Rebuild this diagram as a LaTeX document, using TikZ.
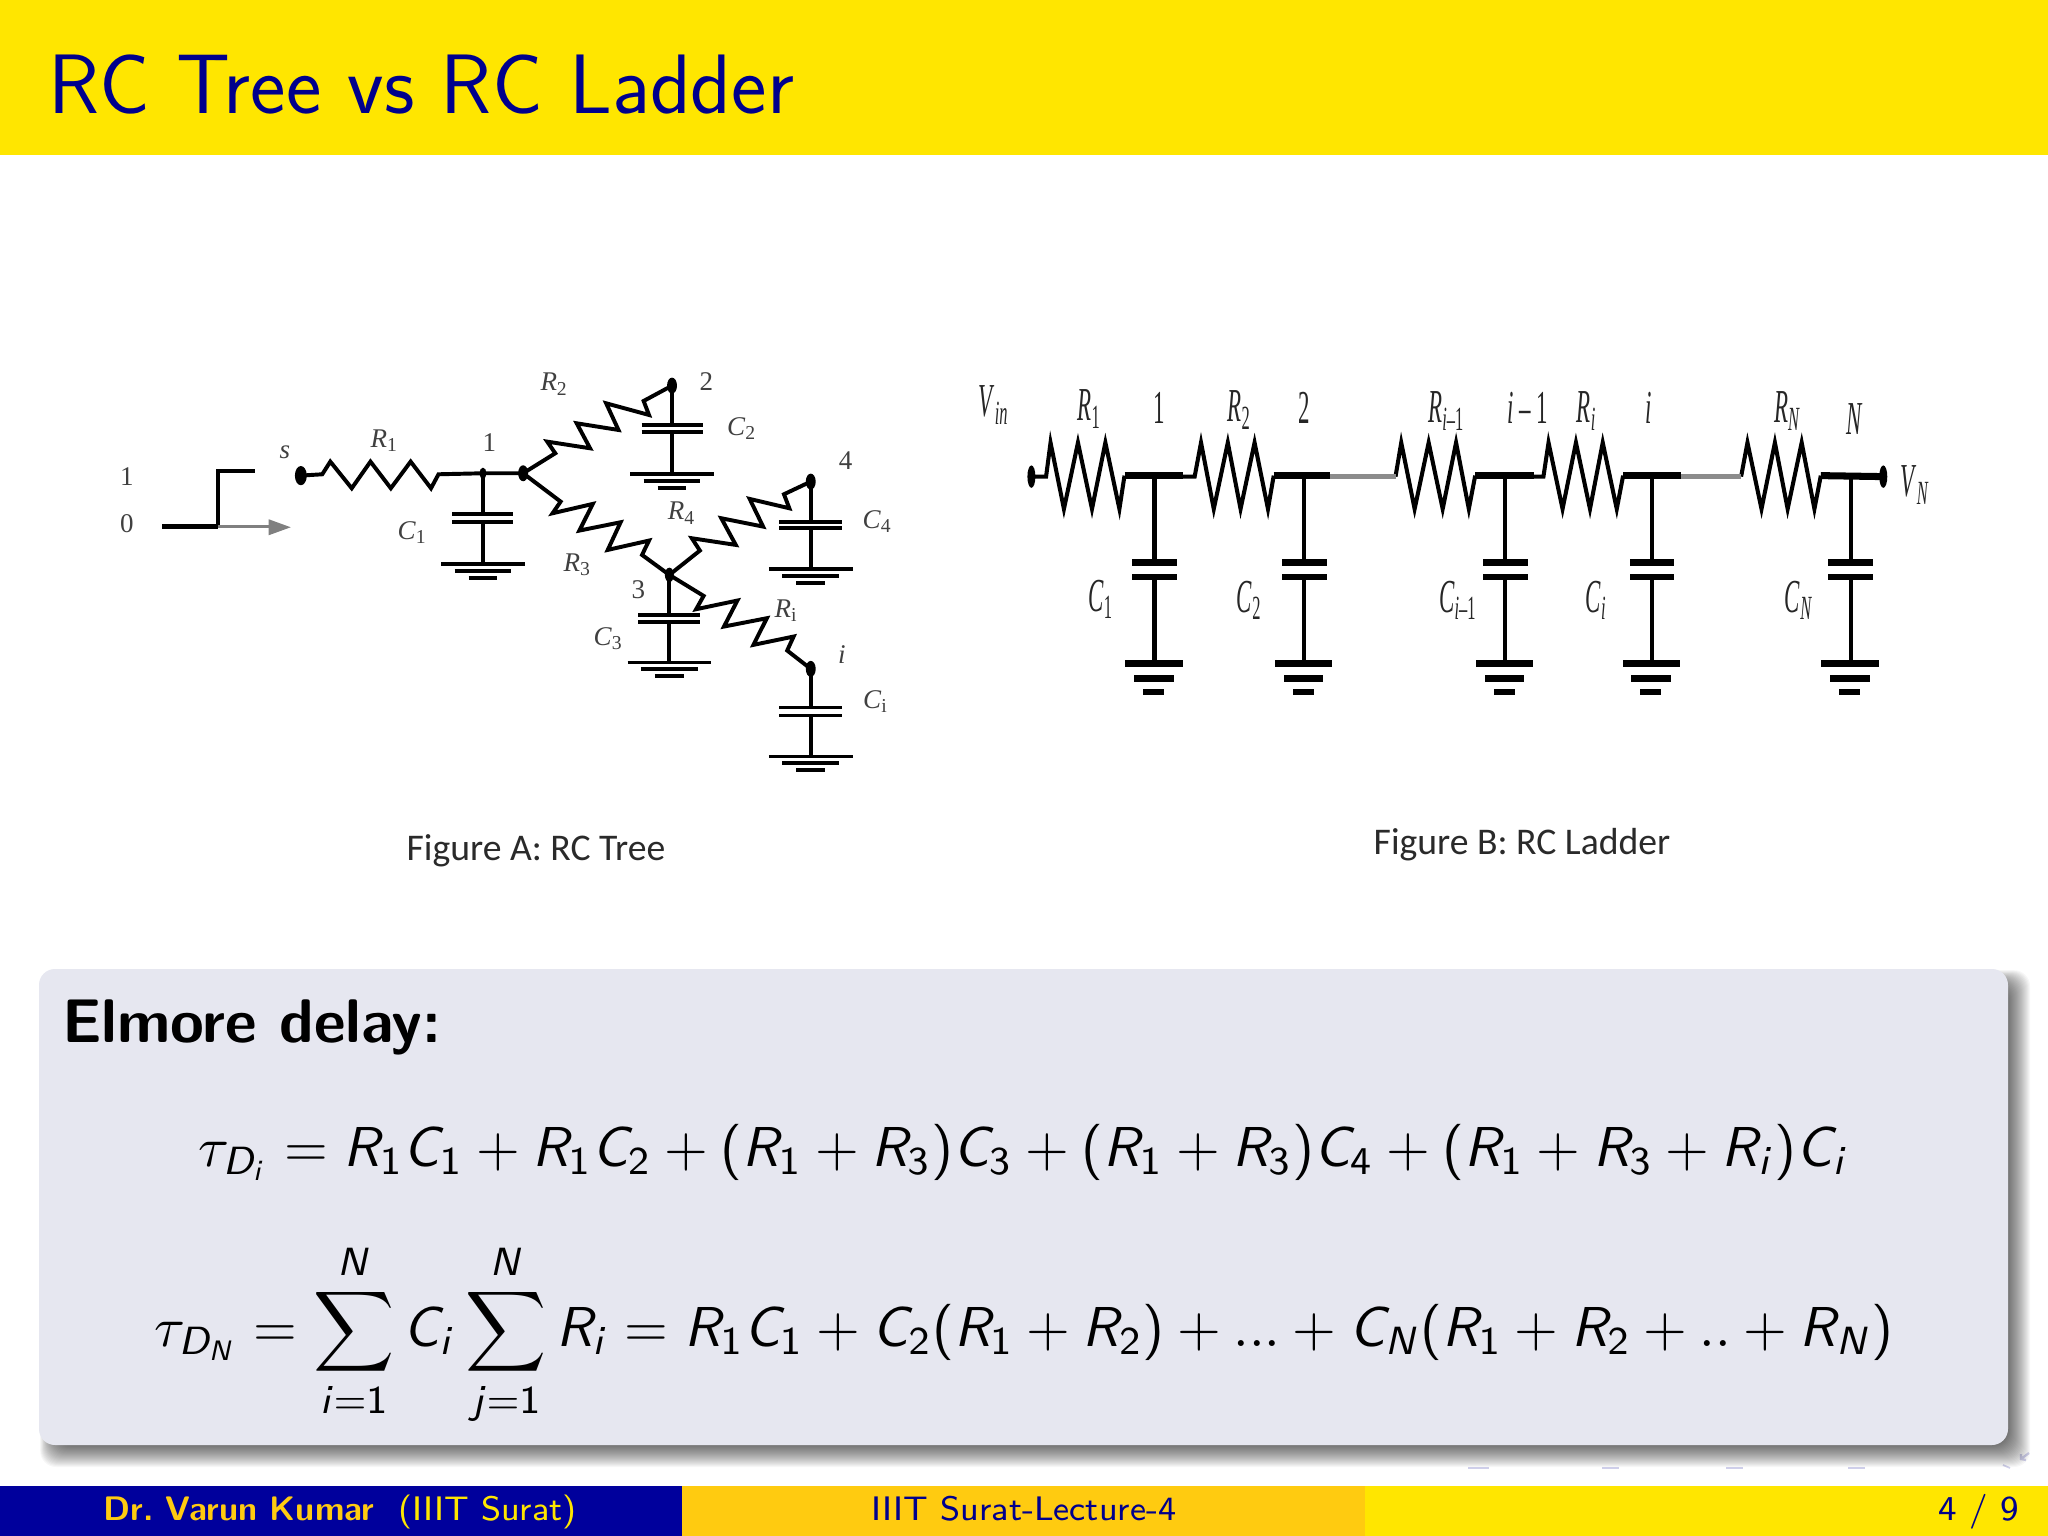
\documentclass[tikz,border=0pt]{standalone}
\usepackage[no-math]{fontspec}
\usepackage{amsmath}
\setmainfont{Latin Modern Sans}
\newfontfamily\tim{Liberation Serif}
\newfontfamily\car{Carlito}
\DeclareSymbolFont{operators}{OT1}{cmss}{m}{n}
\DeclareSymbolFont{sfl}{OT1}{cmss}{m}{sl}
\DeclareMathSymbol{R}{\mathalpha}{sfl}{`R}
\DeclareMathSymbol{C}{\mathalpha}{sfl}{`C}
\DeclareMathSymbol{D}{\mathalpha}{sfl}{`D}
\DeclareMathSymbol{N}{\mathalpha}{sfl}{`N}
\DeclareMathSymbol{i}{\mathalpha}{sfl}{`i}
\DeclareMathSymbol{j}{\mathalpha}{sfl}{`j}
\definecolor{hdr}{HTML}{FFE600}
\definecolor{ttl}{HTML}{00008C}
\definecolor{navy}{HTML}{00009C}
\definecolor{org}{HTML}{FFCB10}
\definecolor{blockbg}{HTML}{E6E7F0}
\definecolor{cap}{HTML}{2A2A2A}
\definecolor{navsym}{HTML}{CFCFEA}
\def\subsz{3.4}
\newcommand\sublab[2]{\textit{#1}\raisebox{-.35ex}{\fontsize{\subsz}{\subsz}\selectfont\textit{#2}}}
\newcommand\subnum[2]{\textit{#1}\raisebox{-.35ex}{\fontsize{\subsz}{\subsz}\selectfont #2}}
\tikzset{
  wireT/.style={line width=.7pt,line join=miter},
  plateT/.style={line width=.7pt},
  labT/.style={font=\tim\fontsize{4.8}{5}\selectfont\def\subsz{3.5},text=black!75,inner sep=0pt},
  wireL/.style={line width=.72pt,line join=miter},
  busL/.style={line width=1.25pt},
  labL/.style={font=\tim\fontsize{6}{6.5}\selectfont\def\subsz{4.3},text=black!85,inner sep=0pt,xscale=.68,yscale=1.4},
  dotnode/.style={circle,fill=black,inner sep=0pt,minimum size=#1},
  txt/.style={inner sep=0pt,anchor=base},
}
\begin{document}
\begin{tikzpicture}[x=0.0625mm,y=-0.0625mm]
\useasboundingbox (0,0) rectangle (2048,1536);
\fill[white] (0,0) rectangle (2048,1536);
% header
\fill[hdr] (0,0) rectangle (2048,155);
\node[txt,anchor=base west,text=ttl] (title) at (47,113) {\fontsize{15}{17}\selectfont RC Tree vs RC Ladder};
% footer
\fill[navy] (0,1486) rectangle (682,1536);
\fill[org] (682,1486) rectangle (1365,1536);
\fill[hdr] (1365,1486) rectangle (2048,1536);
\node[txt,text=hdr] (foota) at (340,1520) {\fontsize{6.05}{7}\selectfont\textcolor{org}{\bfseries Dr.\ Varun Kumar}\ \ (IIIT Surat)};
\node[txt,text=ttl] (footb) at (1024,1520) {\fontsize{6.05}{7}\selectfont IIIT Surat-Lecture-4};
\node[txt,anchor=base east,text=ttl] (footc) at (2020,1520) {\fontsize{6.2}{7}\selectfont 4 / 9};
% navigation symbols (faint)
\foreach \a/\b in {1468/1489,1602/1619,1726/1743,1848/1865}{\draw[navsym,line width=.3pt] (\a,1468)--(\b,1468);}
\draw[navsym,line width=.3pt] (2003,1465)--(2010,1468);
\draw[navsym,line width=.4pt] (2029,1453)--(2021,1459) (2021,1454)--(2021,1459)--(2026,1460);
% block
\foreach \e in {14,13,...,-8}{\fill[black,opacity=.03,rounded corners=1mm] (50-.7*\e,980-.7*\e) rectangle (2016+\e,1453+\e);}
\fill[blockbg,rounded corners=1mm] (39,969) rectangle (2008,1445);
\node[txt,anchor=base west] (bt) at (61,1042) {\fontsize{10.95}{13}\selectfont\bfseries Elmore delay:};
\node[txt] (eq1) at (1024,1166) {$\tau_{D_i}=R_1C_1+R_1C_2+(R_1+R_3)C_3+(R_1+R_3)C_4+(R_1+R_3+R_i)C_i$};
\node[txt] (eq2) at (1024,1346) {$\displaystyle\tau_{D_N}=\sum_{i=1}^{N}C_i\sum_{j=1}^{N}R_i=R_1C_1+C_2(R_1+R_2)+...+C_N(R_1+R_2+..+R_N)$};
% captions
\node[font=\car\fontsize{6.7}{8}\selectfont,text=cap,inner sep=0pt] (capa) at (536,851) {Figure A: RC Tree};
\node[font=\car\fontsize{6.7}{8}\selectfont,text=cap,inner sep=0pt] (capb) at (1522,845) {Figure B: RC Ladder};
% ---------- RC tree (zoom frame)
\begin{scope}[shift={(100,340)},x=0.03348mm,y=-0.02083mm]
\coordinate (s) at (375,407);
\coordinate (n1) at (715,400);
\coordinate (n1b) at (790,400);
\coordinate (n2) at (1068,137);
\coordinate (n3) at (1063,705);
\coordinate (n4) at (1327,425);
\coordinate (ni) at (1327,987);
% step input
\draw[line width=.8pt] (116,560)--(220,560);
\draw[line width=.7pt] (220,560)--(220,393)--(290,393);
\draw[black!50,line width=.4pt] (220,560)--(320,560);
\fill[black!50] (315,538)--(356,562)--(315,586)--cycle;
% resistors
\draw[wireT] (s)--(415,403)--(430,365)--(470,445)--(505,365)--(543,445)--(580,365)--(618,445)--(632,403)--(n1)--(n1b);
\draw[wireT] (n1b)--(850,340)--(835,305)--(915,325)--(890,250)--(968,270)--(945,190)--(1025,225)--(1015,183)--(n2);
\draw[wireT] (n1b)--(860,485)--(845,520)--(920,492)--(895,572)--(972,547)--(948,630)--(1025,602)--(1012,645)--(n3);
\draw[wireT] (n3)--(1120,632)--(1105,595)--(1187,615)--(1160,535)--(1238,560)--(1213,477)--(1287,505)--(1277,463)--(n4);
\draw[wireT] (n3)--(1127,768)--(1113,808)--(1190,782)--(1165,860)--(1245,835)--(1220,915)--(1295,890)--(1283,932)--(ni);
% capacitors and grounds
\foreach \nd/\xa/\py/\pq/\pw/\gy in {n1/715/523/547/57/673,n2/1068/255/275/57/402,n4/1327/545/565/59/688,n3/1063/825/845/58/968,ni/1327/1103/1127/59/1250}{
  \draw[wireT] (\nd)--(\xa,\py);
  \draw[wireT] (\xa,\pq)--(\xa,\gy);
  \draw[plateT] (\xa-\pw,\py)--(\xa+\pw,\py);
  \draw[plateT] (\xa-\pw,\pq)--(\xa+\pw,\pq);
  \draw[plateT] (\xa-78,\gy)--(\xa+78,\gy);
  \draw[plateT] (\xa-53,\gy+20)--(\xa+53,\gy+20);
  \draw[plateT] (\xa-27,\gy+41)--(\xa+27,\gy+41);
}
% dots
\node[dotnode=1.2mm,xscale=.62] (ds) at (s) {};
\node[dotnode=.7mm,xscale=.62] (d1) at (n1) {};
\node[dotnode=1mm,xscale=.62] (d1b) at (n1b) {};
\node[dotnode=1mm,xscale=.62] (d2) at (n2) {};
\node[dotnode=.9mm,xscale=.62] (d3) at (n3) {};
\node[dotnode=1mm,xscale=.62] (d4) at (n4) {};
\node[dotnode=1mm,xscale=.62] (di) at (ni) {};
% labels
\node[labT] (t1) at (50,410) {1};
\node[labT] (t0) at (50,552) {0};
\node[labT] (ts) at (345,337) {\textit{s}};
\node[labT] (tR1) at (530,303) {\subnum{R}{1}};
\node[labT] (tn1) at (727,307) {1};
\node[labT] (tC1) at (582,578) {\subnum{C}{1}};
\node[labT] (tR2) at (847,133) {\subnum{R}{2}};
\node[labT] (tn2) at (1132,125) {2};
\node[labT] (tC2) at (1197,265) {\subnum{C}{2}};
\node[labT] (tR4) at (1085,520) {\subnum{R}{4}};
\node[labT] (tn4) at (1392,362) {4};
\node[labT] (tC4) at (1450,545) {\subnum{C}{4}};
\node[labT] (tR3) at (890,675) {\subnum{R}{3}};
\node[labT] (tn3) at (1005,748) {3};
\node[labT] (tC3) at (948,897) {\subnum{C}{3}};
\node[labT] (tRi) at (1280,812) {\subnum{R}{i}};
\node[labT] (tni) at (1385,945) {\textit{i}};
\node[labT] (tCi) at (1447,1085) {\subnum{C}{i}};
\end{scope}
% ---------- RC ladder (zoom frame)
\begin{scope}[shift={(960,360)},x=0.03986mm,y=-0.02083mm]
\coordinate (vin) at (112,350);
\coordinate (vout) at (1448,350);
\coordinate (a1) at (305,347);
\coordinate (a2) at (540,347);
\coordinate (a3) at (855,347);
\coordinate (a4) at (1085,347);
\coordinate (a5) at (1397,347);
\draw[wireL] (vin)--(135,350)--(142,248)--(163,447)--(185,248)--(207,447)--(228,248)--(250,447)--(258,347);
\draw[wireL] (350,350)--(368,350)--(378,248)--(398,447)--(420,248)--(440,447)--(462,248)--(483,447)--(492,347);
\draw[wireL] (683,350)--(692,248)--(713,447)--(735,248)--(757,447)--(778,248)--(798,447)--(808,347);
\draw[wireL] (900,350)--(915,350)--(923,248)--(945,447)--(966,248)--(988,447)--(1008,248)--(1030,447)--(1040,347);
\draw[wireL] (1225,350)--(1235,248)--(1257,447)--(1278,248)--(1298,447)--(1320,248)--(1340,447)--(1350,347);
\draw[busL] (258,347)--(350,347);
\draw[busL] (492,347)--(580,347);
\draw[busL] (808,347)--(900,347);
\draw[busL] (1040,347)--(1130,347);
\draw[busL] (1350,347)--(vout);
\draw[black!45,line width=.9pt] (580,350)--(683,350);
\draw[black!45,line width=.9pt] (1130,350)--(1225,350);
\foreach \nd/\xa in {a1/305,a2/540,a3/855,a4/1085,a5/1397}{
  \draw[wireL] (\nd)--(\xa,607);
  \draw[wireL] (\xa,650)--(\xa,910);
  \fill[black] (\xa-35,596) rectangle (\xa+35,619);
  \fill[black] (\xa-35,642) rectangle (\xa+35,659);
  \fill[black] (\xa-46,899) rectangle (\xa+44,921);
  \fill[black] (\xa-32,944) rectangle (\xa+30,966);
  \fill[black] (\xa-18,986) rectangle (\xa+15,1004);
}
\node[dotnode=1mm,xscale=.5,yscale=1.4] (dvin) at (vin) {};
\node[dotnode=1mm,xscale=.5,yscale=1.4] (dvout) at (vout) {};
\node[labL] (lvin) at (52,135) {\sublab{V}{in}};
\node[labL] (lR1) at (202,148) {\subnum{R}{1}};
\node[labL] (l1) at (312,145) {1};
\node[labL] (lR2) at (437,151) {\subnum{R}{2}};
\node[labL] (l2) at (540,145) {2};
\node[labL] (lRm) at (762,153) {\subnum{R}{\textit{i}–1}};
\node[labL] (lim) at (890,145) {\textit{i} – 1};
\node[labL] (lRi) at (982,153) {\sublab{R}{i}};
\node[labL] (li) at (1080,145) {\textit{i}};
\node[labL] (lRN) at (1297,153) {\sublab{R}{N}};
\node[labL] (lN) at (1403,178) {\textit{N}};
\node[labL] (lVN) at (1497,376) {\sublab{V}{N}};
\node[labL] (lC1) at (220,718) {\subnum{C}{1}};
\node[labL] (lC2) at (453,721) {\subnum{C}{2}};
\node[labL] (lCm) at (780,721) {\subnum{C}{\textit{i}–1}};
\node[labL] (lCi) at (997,721) {\sublab{C}{i}};
\node[labL] (lCN) at (1315,721) {\sublab{C}{N}};
\end{scope}
\end{tikzpicture}
\end{document}
